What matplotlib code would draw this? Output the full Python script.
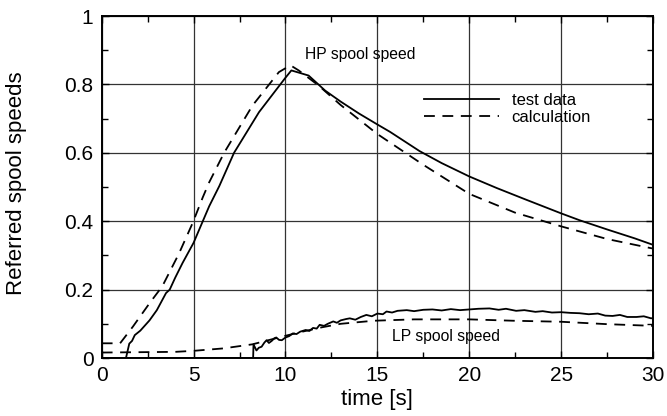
import matplotlib
matplotlib.use("Agg")
import matplotlib.pyplot as plt
from matplotlib.ticker import MultipleLocator, FormatStrFormatter

plt.rcParams['font.family'] = ['Liberation Sans', 'DejaVu Sans']

# HP spool, test data
hp_test_t = [0, 1.32, 1.5, 1.65, 1.8, 2.1, 2.6, 3.0, 3.5, 3.7, 4.0, 4.4, 5.0, 5.5, 5.85,
             6.4, 7.2, 8.56, 9.96, 10.32, 10.7, 11.26, 12.16, 13.0, 14.0, 15.0, 15.7,
             16.5, 17.3, 18.5, 20.0, 21.5, 23.0, 25.0, 26.0, 27.5, 29.0, 30.0]
hp_test_y = [0, 0, 0.042, 0.05, 0.067, 0.08, 0.11, 0.14, 0.19, 0.2, 0.235, 0.278, 0.337, 0.4, 0.444,
             0.503, 0.6, 0.719, 0.817, 0.841, 0.835, 0.826, 0.782, 0.75, 0.715, 0.683, 0.661,
             0.633, 0.605, 0.57, 0.531, 0.497, 0.465, 0.423, 0.403, 0.376, 0.35, 0.331]

# HP spool, calculation
hp_calc_t = [0, 1.0, 1.7, 2.6, 3.3, 4.2, 4.95, 5.5, 5.85, 6.66, 8.2, 9.64, 10.27, 10.72,
             11.8, 13.0, 15.0, 17.5, 20.0, 22.5, 25.0, 27.5, 30.0]
hp_calc_y = [0.043, 0.043, 0.092, 0.16, 0.21, 0.305, 0.395, 0.47, 0.514, 0.6, 0.738, 0.836, 0.856, 0.841,
             0.797, 0.74, 0.655, 0.565, 0.48, 0.425, 0.385, 0.348, 0.32]

# LP spool, test data
lp_test_t = [0, 8.24, 8.26, 8.42, 8.55, 8.7, 8.85, 8.97, 9.1, 9.25, 9.4, 9.5, 9.65, 9.8, 10.0,
             10.2, 10.4, 10.6, 10.8, 11.1, 11.3, 11.5, 11.7, 11.86, 12.1, 12.3, 12.6, 12.8,
             13.0, 13.3, 13.5, 13.8, 14.1, 14.4, 14.7, 15.0, 15.3, 15.5, 15.8, 16.1, 16.6,
             17.0, 17.5, 18.0, 18.5, 19.0, 19.5, 20.0, 20.5, 21.1, 21.6, 22.0, 22.55, 23.0,
             23.6, 24.0, 24.5, 25.0, 25.5, 26.0, 26.5, 27.0, 27.4, 27.8, 28.2, 28.6, 29.1,
             29.5, 29.9, 30.0]
lp_test_y = [0, 0, 0.04, 0.022, 0.03, 0.033, 0.045, 0.052, 0.044, 0.05, 0.058, 0.06, 0.053, 0.052, 0.06,
             0.064, 0.072, 0.07, 0.077, 0.082, 0.079, 0.088, 0.086, 0.097, 0.094, 0.1, 0.107, 0.103,
             0.11, 0.114, 0.116, 0.112, 0.12, 0.126, 0.122, 0.13, 0.128, 0.136, 0.133, 0.138, 0.14,
             0.137, 0.141, 0.142, 0.139, 0.143, 0.14, 0.142, 0.144, 0.145, 0.141, 0.144, 0.138, 0.14,
             0.135, 0.137, 0.133, 0.134, 0.132, 0.131, 0.128, 0.13, 0.124, 0.123, 0.126, 0.12, 0.12,
             0.122, 0.116, 0.117]

# LP spool, calculation
lp_calc_t = [0, 4.0, 5.0, 6.6, 8.2, 10.0, 11.0, 12.0, 13.0, 14.8, 17.0, 20.0, 22.4, 25.0, 27.5, 30.0]
lp_calc_y = [0.016, 0.018, 0.021, 0.028, 0.04, 0.065, 0.078, 0.09, 0.1, 0.109, 0.113, 0.113, 0.109,
             0.106, 0.099, 0.094]

x_ticks = [0, 5, 10, 15, 20, 25, 30]
y_ticks = [0, 0.2, 0.4, 0.6, 0.8, 1]

fig = plt.figure(figsize=(6.67, 4.16), dpi=100)
ax = fig.add_axes([0.1525, 0.1394, 0.8265, 0.822])

lw = 1.3
dash = (6, 4.2)
ax.plot(hp_test_t, hp_test_y, color='black', lw=lw, label='test data')
ax.plot(hp_calc_t, hp_calc_y, color='black', lw=lw, dashes=dash, label='calculation')
ax.plot(lp_test_t, lp_test_y, color='black', lw=lw)
ax.plot(lp_calc_t, lp_calc_y, color='black', lw=lw, dashes=dash)

ax.set_xlim(0, 30)
ax.set_ylim(0, 1)
ax.set_xticks(x_ticks)
ax.set_yticks(y_ticks)
ax.xaxis.set_minor_locator(MultipleLocator(2.5))
ax.yaxis.set_minor_locator(MultipleLocator(0.1))
ax.yaxis.set_major_formatter(FormatStrFormatter('%g'))
ax.grid(True, which='major', color='#333333', lw=0.9)
ax.tick_params(which='both', direction='in', top=True, right=True, labelsize=15, color='black')
ax.tick_params(which='major', length=5, width=1, pad=6)
ax.tick_params(which='minor', length=4, width=1)
for s in ax.spines.values():
    s.set_linewidth(1.4)
    s.set_zorder(5)

ax.set_xlabel('time [s]', fontsize=16)
ax.set_ylabel('Referred spool speeds', fontsize=16)
ax.xaxis.set_label_coords(0.5, -0.09)
ax.yaxis.set_label_coords(-0.136, 0.51)

ax.text(11.05, 0.887, 'HP spool speed', fontsize=11.3, va='center', ha='left')
ax.text(15.8, 0.062, 'LP spool speed', fontsize=11.3, va='center', ha='left')

ax.legend(loc='center left', bbox_to_anchor=(0.585, 0.728), frameon=False, fontsize=12,
          handlelength=4.5, handletextpad=0.74, labelspacing=0.1, borderaxespad=0, borderpad=0)

fig.savefig('out.png', dpi=100)
